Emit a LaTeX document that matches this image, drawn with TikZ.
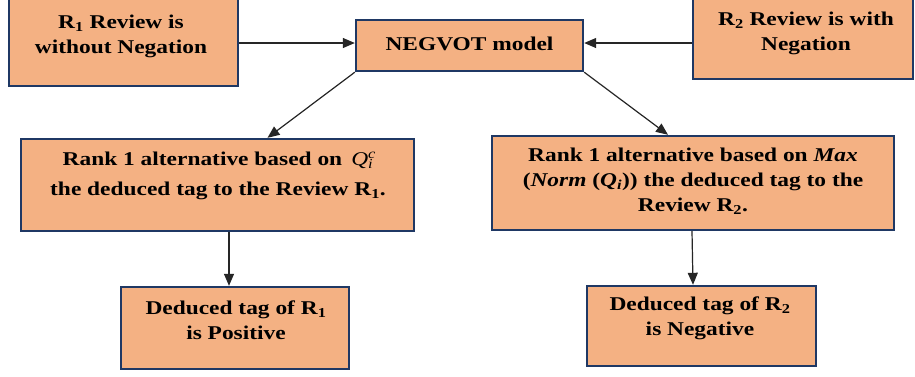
\documentclass[tikz,border=0pt]{standalone}
\usepackage{fontspec}
\setmainfont{Liberation Serif}[FakeStretch=1.2]
\usetikzlibrary{arrows.meta}
\definecolor{boxfill}{HTML}{F4B183}
\definecolor{boxline}{HTML}{1F3864}
\tikzset{
  box/.style={draw=boxline, fill=boxfill, line width=2.4pt, rectangle, inner sep=0pt},
  txt/.style={align=center, font=\fontsize{19.5}{25}\selectfont\bfseries, inner sep=0pt},
  conn/.style={draw=black!85, line width=1.2pt, -{Triangle[length=12pt,width=10pt]}}
}
\begin{document}
\begin{tikzpicture}[x=1pt,y=-1pt]
\useasboundingbox (0,0) rectangle (915,376);
\fill[white] (0,0) rectangle (915,376);
% boxes
\node[box, minimum width=229pt, minimum height=89pt] (A) at (123.5,41.5) {};
\node[box, minimum width=227pt, minimum height=51pt] (N) at (469.5,45.5) {};
\node[box, minimum width=220pt, minimum height=82pt] (C) at (803,38) {};
\node[box, minimum width=393pt, minimum height=92pt] (L) at (217.5,185) {};
\node[box, minimum width=402pt, minimum height=94pt] (R) at (693,183) {};
\node[box, minimum width=228pt, minimum height=82pt] (DL) at (235,328) {};
\node[box, minimum width=229pt, minimum height=80pt] (DR) at (701.5,326) {};
% texts
\node[txt] (tA) at (121,36) {R\textsubscript{1} Review is\\without Negation};
\node[txt] (tN) at (469.5,44) {NEGVOT model};
\node[txt] (tC) at (806,33) {R\textsubscript{2} Review is with\\Negation};
\node[txt] (tL) at (218,176) {Rank 1 alternative based on\, {\mdseries\textit{Q}\rlap{\textsuperscript{\textit{c}}}\textsubscript{\textit{i}}}\\[5pt]the deduced tag to the Review R\textsubscript{1}.};
\node[txt] (tR) at (693,181) {Rank 1 alternative based on \textit{Max}\\(\textit{Norm} (\textit{Q\textsubscript{i}})) the deduced tag to the\\Review R\textsubscript{2}.};
\node[txt] (tDL) at (236,320) {Deduced tag of R\textsubscript{1}\\is Positive};
\node[txt] (tDR) at (700,318) {Deduced tag of R\textsubscript{2}\\is Negative};
% connectors
\draw[conn] (A.east |- 0,43) -- (N.west |- 0,43);
\draw[conn] (C.west |- 0,43) -- (N.east |- 0,43);
\draw[conn] (N.south west) -- ([xshift=50pt]L.north);
\draw[conn] (N.south east) -- ([xshift=-25pt]R.north);
\draw[conn] ([xshift=11.5pt]L.south) -- ([xshift=-6pt]DL.north);
\draw[conn] ([xshift=-1pt]R.south) -- ([xshift=-8.5pt]DR.north);
\end{tikzpicture}
\end{document}
